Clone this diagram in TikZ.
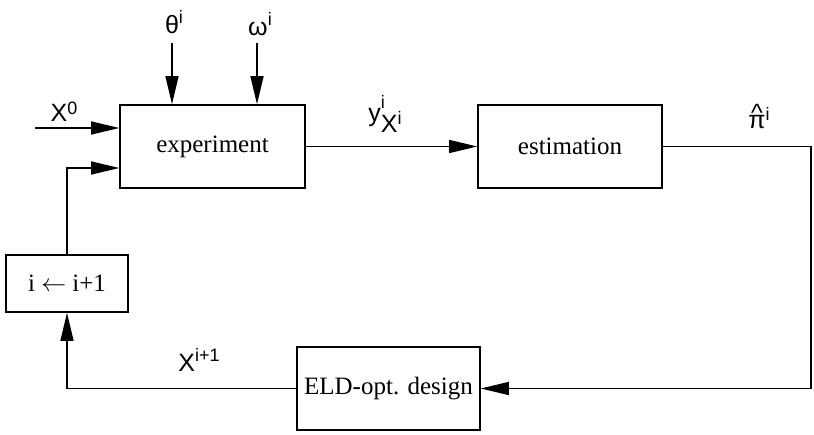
\documentclass[tikz,border=0pt]{standalone}
\usepackage{fontspec}
\setmainfont{Liberation Serif}
\newfontfamily\labfont{Liberation Sans}
\usetikzlibrary{arrows.meta}
\newcommand{\supsz}{\fontsize{18}{20}\selectfont}
\begin{document}
\begin{tikzpicture}[x=1pt,y=-1pt,
  blk/.style={draw,line width=1.6pt,inner sep=0pt,font=\fontsize{25}{30}\selectfont},
  conn/.style={line width=1.4pt},
  arr/.style={conn,-{Triangle[length=28pt,width=13pt]}},
  lab/.style={inner sep=0pt,font=\labfont\fontsize{25}{30}\selectfont}]
\useasboundingbox (0,0) rectangle (814,434);
% blocks
\node[blk,minimum width=185pt,minimum height=83pt] (exp) at (212.5,146.5) {experiment};
\node[blk,minimum width=184pt,minimum height=83pt] (est) at (570,146.5) {estimation};
\node[blk,minimum width=122pt,minimum height=57pt] (inc) at (67,283.5) {i $\leftarrow$ i+1};
\node[blk,minimum width=183pt,minimum height=83pt] (eld) at (388.5,388.5) {ELD-opt. design};
% free ends
\coordinate (x0s) at (35,128);
\coordinate (ths) at (172,43);
\coordinate (oms) at (257,43);
\coordinate (rc) at (811,0);
% connectors
\draw[arr] (x0s) -- (x0s -| exp.west);
\draw[arr] (ths) -- (ths |- exp.north);
\draw[arr] (oms) -- (oms |- exp.north);
\draw[arr] (exp.east) -- (est.west);
\draw[arr] (est.east) -- (est.east -| rc) |- (eld.east);
\draw[arr] (eld.west) -| (inc.south);
\draw[arr] (inc.north) |- ([yshift=-21.5pt]exp.west);
% labels
\node[lab] (lx0) at (64,112) {X\raisebox{0.5ex}{\supsz 0}};
\node[lab] (lth) at (174,22) {θ\raisebox{0.75ex}{\supsz i}};
\node[lab] (lom) at (260,24) {ω\raisebox{0.75ex}{\supsz i}};
\node[lab] (ly) at (385,114) {y\rlap{\raisebox{1.0ex}{\supsz i}}\raisebox{-0.8ex}{X\raisebox{0.6ex}{\supsz i}}};
\node[lab] (lpi) at (759,118) {\ooalign{π\cr\hidewidth\raisebox{0.55ex}{\^{}}\hidewidth}\raisebox{0.6ex}{\supsz i}};
\node[lab] (lxi) at (199,360) {X\raisebox{0.75ex}{\supsz i+1}};
\end{tikzpicture}
\end{document}
